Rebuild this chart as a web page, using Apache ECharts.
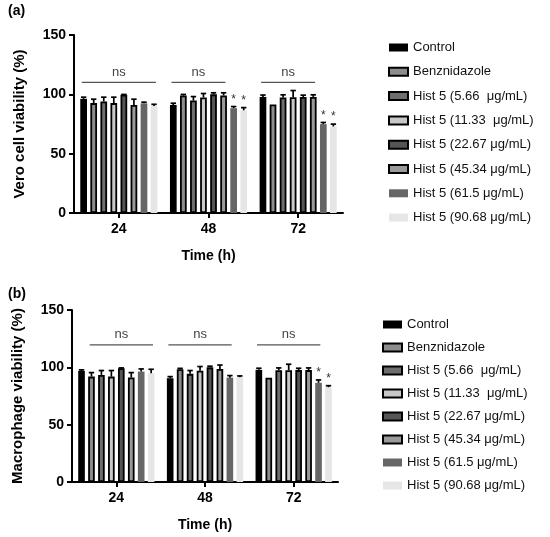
<!DOCTYPE html>
<html>
<head>
<meta charset="utf-8">
<script src="https://cdn.jsdelivr.net/npm/echarts@6/dist/echarts.min.js"></script>
<style>html,body{margin:0;padding:0;background:#fff}#c{width:550px;height:537px}</style>
</head>
<body>
<div id="c"></div>
<script>
// ---- data ----
const categories = ['24', '48', '72'];
const seriesNames = ['Control', 'Benznidazole', 'Hist 5 (5.66  μg/mL)', 'Hist 5 (11.33  μg/mL)',
  'Hist 5 (22.67 μg/mL)', 'Hist 5 (45.34 μg/mL)', 'Hist 5 (61.5 μg/mL)', 'Hist 5 (90.68 μg/mL)'];
// mean viability per treatment, per time point (24, 48, 72 h)
const veroMean = [
  [96.2, 91.0, 97.8],
  [92.6, 99.0, 91.5],
  [93.9, 94.8, 97.4],
  [92.6, 97.4, 97.5],
  [99.6, 100.0, 97.8],
  [91.1, 99.0, 97.8],
  [92.4, 88.3, 74.9],
  [90.2, 86.5, 72.9]
];
const veroErr = [
  [1.4, 1.5, 1.6],
  [3.3, 0.9, 0],
  [3.7, 3.3, 2.2],
  [5.0, 3.3, 5.7],
  [0.3, 1.3, 1.5],
  [4.8, 2.3, 1.8],
  [1.0, 1.4, 1.4],
  [1.4, 2.3, 2.0]
];
const macroMean = [
  [96.9, 90.5, 97.8],
  [91.9, 98.3, 91.0],
  [93.4, 94.3, 97.5],
  [91.9, 97.0, 97.5],
  [99.2, 100.0, 97.6],
  [91.1, 98.6, 97.6],
  [96.3, 91.0, 86.5],
  [94.9, 91.4, 82.7]
];
const macroErr = [
  [0.9, 1.4, 1.4],
  [3.5, 0.8, 0],
  [3.8, 2.9, 2.0],
  [5.3, 3.7, 5.2],
  [0.3, 1.0, 1.6],
  [4.3, 3.4, 1.9],
  [2.3, 1.8, 2.5],
  [3.4, 1.1, 1.3]
];
// significance asterisks: [time index, treatment index]
const veroStars = [[1, 6], [1, 7], [2, 6], [2, 7]];
const macroStars = [[2, 6], [2, 7]];
// "ns" brackets: [time index, first treatment, last treatment]
const veroNs = [[0, 0, 7], [1, 0, 5], [2, 0, 5]];
const macroNs = [[0, 1, 7], [1, 0, 6], [2, 0, 6]];
const veroNsLevel = 110;
const macroNsLevel = 119.5;

// ---- styles ----
const FONT = '"Liberation Sans", Arial, Helvetica, sans-serif';
const fills = ['#000000', '#8c8c8c', '#6e6e6e', '#c8c8c8', '#555555', '#9a9a9a', '#666666', '#e6e6e6'];
const bordered = [false, true, true, true, true, true, false, false];
const CAT_GAP = 0.14, BAR_GAP = 0.5, N = seriesNames.length;

function barLayout(cx, bw, si) {
  const remained = bw * (1 - CAT_GAP);
  const w = remained / (N + (N - 1) * BAR_GAP);
  const total = N * w + (N - 1) * w * BAR_GAP;
  const left = cx - total / 2 + si * w * (1 + BAR_GAP);
  return { left: left, center: left + w / 2, right: left + w, w: w };
}

function itemStyleFor(i) {
  return bordered[i]
    ? { color: fills[i], borderColor: '#000', borderWidth: 1.8 }
    : { color: fills[i], borderWidth: 0 };
}

const series = [];
function addPanel(idx, mean, err, stars, ns, nsLevel) {
  for (let i = 0; i < N; i++) {
    series.push({
      type: 'bar', name: seriesNames[i], xAxisIndex: idx, yAxisIndex: idx,
      data: mean[i], barCategoryGap: (CAT_GAP * 100) + '%', barGap: (BAR_GAP * 100) + '%',
      itemStyle: itemStyleFor(i), emphasis: { disabled: true }, z: 2
    });
  }
  const errData = [];
  for (let i = 0; i < N; i++) for (let c = 0; c < categories.length; c++) {
    const star = stars.some(s => s[0] === c && s[1] === i) ? 1 : 0;
    errData.push([c, mean[i][c], err[i][c], i, star]);
  }
  series.push({
    type: 'custom', name: 'err' + idx, xAxisIndex: idx, yAxisIndex: idx, z: 5,
    data: errData, encode: { x: 0, y: 1 }, silent: true,
    renderItem: function (params, api) {
      const c = api.value(0), m = api.value(1), e = api.value(2), si = api.value(3), st = api.value(4);
      const bw = api.size([1, 0])[0];
      const p = api.coord([c, m]);
      const x = barLayout(p[0], bw, si).center;
      const topY = api.coord([c, m + e])[1];
      const ch = [];
      if (e > 0) {
        ch.push({ type: 'line', shape: { x1: x, y1: p[1], x2: x, y2: topY }, style: { stroke: '#000', lineWidth: 1.7 } });
        ch.push({ type: 'line', shape: { x1: x - 2.7, y1: topY, x2: x + 2.7, y2: topY }, style: { stroke: '#000', lineWidth: 1.7 } });
      }
      if (st) {
        ch.push({ type: 'text', style: { text: '*', x: x, y: topY - 1, align: 'center', verticalAlign: 'bottom',
          fontSize: 12, fontFamily: FONT, fill: '#333' } });
      }
      return { type: 'group', children: ch };
    }
  });
  series.push({
    type: 'custom', name: 'ns' + idx, xAxisIndex: idx, yAxisIndex: idx, z: 5, silent: true,
    data: ns.map(d => [d[0], nsLevel, d[1], d[2]]), encode: { x: 0, y: 1 },
    renderItem: function (params, api) {
      const c = api.value(0), lv = api.value(1), a = api.value(2), b = api.value(3);
      const bw = api.size([1, 0])[0];
      const p = api.coord([c, lv]);
      const x1 = barLayout(p[0], bw, a).left + 1.5;
      const x2 = barLayout(p[0], bw, b).right - 1.5;
      return { type: 'group', children: [
        { type: 'line', shape: { x1: x1, y1: p[1], x2: x2, y2: p[1] }, style: { stroke: '#555', lineWidth: 1.3 } },
        { type: 'text', style: { text: 'ns', x: (x1 + x2) / 2, y: p[1] - 4, align: 'center', verticalAlign: 'bottom',
          fontSize: 13, fontFamily: FONT, fill: '#444' } }
      ] };
    }
  });
}
addPanel(0, veroMean, veroErr, veroStars, veroNs, veroNsLevel);
addPanel(1, macroMean, macroErr, macroStars, macroNs, macroNsLevel);

function xAxisFor(idx) {
  return {
    type: 'category', gridIndex: idx, data: categories,
    name: 'Time (h)', nameLocation: 'middle', nameGap: 36,
    nameTextStyle: { fontSize: 14, fontWeight: 'bold', color: '#000', fontFamily: FONT },
    axisLine: { show: true, lineStyle: { color: '#000', width: 2 } },
    axisTick: { show: true, alignWithLabel: true, length: 5, lineStyle: { color: '#000', width: 2 } },
    axisLabel: { fontSize: 14, fontWeight: 'bold', color: '#000', fontFamily: FONT, margin: 9 },
    splitLine: { show: false }
  };
}
function yAxisFor(idx, name) {
  return {
    type: 'value', gridIndex: idx, min: 0, max: 150, interval: 50,
    name: name, nameLocation: 'middle', nameGap: 47, nameRotate: 90,
    nameTextStyle: { fontSize: 15, fontWeight: 'bold', color: '#000', fontFamily: FONT },
    axisLine: { show: true, lineStyle: { color: '#000', width: 2 } },
    axisTick: { show: true, length: 5, lineStyle: { color: '#000', width: 2 } },
    axisLabel: { fontSize: 14, fontWeight: 'bold', color: '#000', fontFamily: FONT, margin: 8 },
    splitLine: { show: false }
  };
}
function legendFor(top, left, gap) {
  return {
    orient: 'vertical', top: top, left: left, itemWidth: 19, itemHeight: 8, itemGap: gap, icon: 'rect',
    selectedMode: false,
    textStyle: { fontSize: 13, color: '#111', fontFamily: FONT },
    data: seriesNames.map((n, i) => ({ name: n, itemStyle: bordered[i]
      ? { color: fills[i], borderColor: '#000', borderWidth: 2 } : { color: fills[i], borderWidth: 0 } }))
  };
}

const option = {
  animation: false,
  backgroundColor: '#fff',
  textStyle: { fontFamily: FONT },
  grid: [
    { left: 74, right: 207, top: 35, bottom: 324 },
    { left: 72, right: 212, top: 310, bottom: 55 }
  ],
  xAxis: [xAxisFor(0), xAxisFor(1)],
  yAxis: [yAxisFor(0, 'Vero cell viability (%)'), yAxisFor(1, 'Macrophage viability (%)')],
  legend: [legendFor(36, 383, 11.3), legendFor(313, 377, 10)],
  graphic: [
    { type: 'text', left: 8, top: 4, style: { text: '(a)', fontSize: 14, fontWeight: 'bold', fill: '#000', fontFamily: FONT } },
    { type: 'text', left: 8, top: 287, style: { text: '(b)', fontSize: 14, fontWeight: 'bold', fill: '#000', fontFamily: FONT } }
  ],
  series: series
};
const chart = echarts.init(document.getElementById('c'), null, { renderer: 'canvas' });
chart.setOption(option);
</script>
</body>
</html>
